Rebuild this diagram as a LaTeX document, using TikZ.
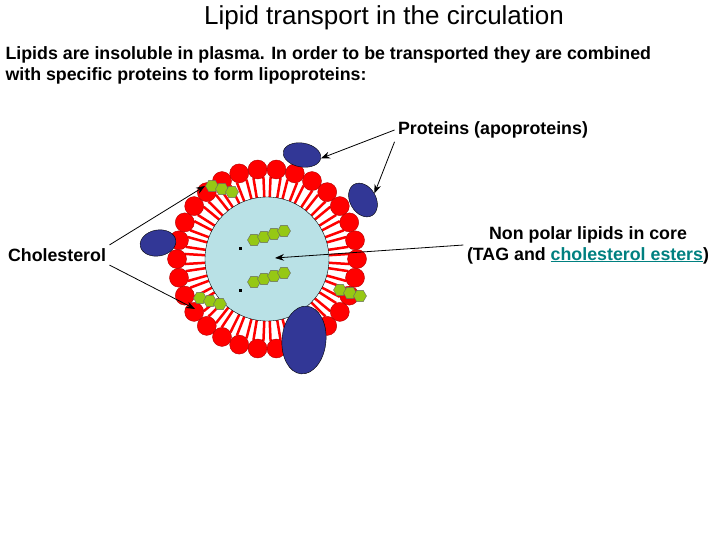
\documentclass[tikz,border=0pt]{standalone}
\usepackage{fontspec}
\setmainfont{Liberation Sans}
\usetikzlibrary{arrows.meta,positioning,calc,shapes.geometric}
\definecolor{protblue}{RGB}{50,55,150}
\definecolor{corecol}{RGB}{185,225,230}
\definecolor{linkcol}{RGB}{0,128,128}
\definecolor{cholgreen}{RGB}{150,200,20}
\tikzset{head/.style = {circle, fill = red, draw = red!70!black, inner sep = 0pt, minimum size = 19pt},
	prot/.style = {ellipse, fill = protblue, draw = black, thin},
	ring/.style = {regular polygon, regular polygon sides = 6, fill = cholgreen, draw = black!60, inner sep = 0pt, minimum size = 13pt},
	lbl/.style = {font = \bfseries\fontsize{17.8}{21}\selectfont, align = center},
	pointer/.style = {-{Stealth[length = 9pt]}, thick}}
\begin{document}
\begin{tikzpicture}[x = 1pt, y = -1pt]
	\useasboundingbox (0,0) rectangle (720,540);
	\node[font = \fontsize{26}{30}\selectfont] (title) at (384,18) {Lipid transport in the circulation};
	\node[lbl, align = left, anchor = north west] (intro) at (2,43) {Lipids are insoluble in plasma. In order to be transported they are combined\\with specific proteins to form lipoproteins:};
	% core and phospholipid shell
	\coordinate (c) at (267,259);
	\foreach \a in {0,12,...,348} {
		\draw[red, line width = 2.5pt] ($(c)+(\a+3.5:58)$) -- ($(c)+(\a+3.5:82)$);
		\draw[red, line width = 2.5pt] ($(c)+(\a-3.5:58)$) -- ($(c)+(\a-3.5:82)$);
	}
	\fill[corecol] (c) circle (62);
	\draw[thin] (c) circle (62);
	\foreach \a in {0,12,...,348} {
		\node[head] at ($(c)+(\a:90)$) {};
	}
	% cholesterol in core
	\foreach \y/\n in {240/k1, 282/k2} {
		\foreach \i in {0,1,2,3} \node[ring] at (254+\i*10,\y-\i*3) {};
		\node[fill = black, inner sep = 1.5pt] (\n) at (240,\y+8) {};
	}
	% cholesterol in shell
	\foreach \x/\y in {212/186, 200/298, 340/290} {
		\foreach \i in {0,1,2} \node[ring] at (\x+\i*10,\y+\i*3) {};
	}
	% proteins
	\node[prot, minimum width = 38pt, minimum height = 24pt, rotate = -10] (p1) at (302,155) {};
	\node[prot, minimum width = 36pt, minimum height = 26pt, rotate = -60] (p2) at (363,200) {};
	\node[prot, minimum width = 36pt, minimum height = 26pt, rotate = 10] (p3) at (158,243) {};
	\node[prot, minimum width = 44pt, minimum height = 68pt, rotate = -5] (p4) at (304,340) {};
	% labels
	\node[lbl] (prot) at (493,130) {Proteins (apoproteins)};
	\node[lbl] (chol) at (57,255) {Cholesterol};
	\node[lbl] (core) at (588,245) {Non polar lipids in core\\(TAG and \textcolor{linkcol}{\underline{cholesterol esters}})};
	\coordinate (s1) at (205,186);
	\coordinate (s2) at (195,309);
	\coordinate (m) at (275,258);
	\draw[pointer] (prot.west) -- (p1.east);
	\draw[pointer] (prot.south west) -- (p2.north);
	\draw[pointer] (chol.north east) -- (s1);
	\draw[pointer] (chol.south east) -- (s2);
	\draw[pointer] (core.west) -- (m);
\end{tikzpicture}
\end{document}
